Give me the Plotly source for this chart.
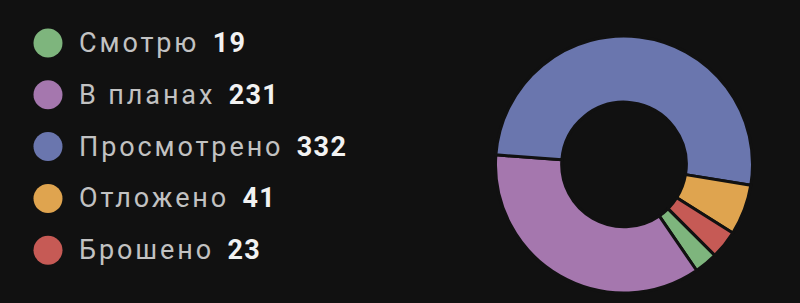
import plotly.graph_objects as go

categories = ["Смотрю", "В планах", "Просмотрено", "Отложено", "Брошено"]
values = [19, 231, 332, 41, 23]
colors = ["#7eb57d", "#a577ae", "#6a76ae", "#dfa44f", "#c65a55"]

BG = "#111111"
W, H = 800, 303

fig = go.Figure()

fig.add_trace(go.Pie(
    labels=categories, values=values, sort=False, direction="clockwise",
    rotation=135, hole=0.485,
    marker=dict(colors=colors, line=dict(color=BG, width=3)),
    textinfo="none", hoverinfo="label+value", showlegend=False,
    domain=dict(x=[(624 - 128.5) / W, (624 + 128.5) / W],
                y=[(H - 164.5 - 128.5) / H, (H - 164.5 + 128.5) / H]),
))

row0, step = 43, 51.8
ys = [row0 + i * step for i in range(len(categories))]

fig.add_trace(go.Scatter(
    x=[48] * len(categories), y=ys, mode="markers",
    marker=dict(size=29, color=colors, line=dict(width=0)),
    hoverinfo="skip", showlegend=False, xaxis="x", yaxis="y",
))

for cat, val, y in zip(categories, values, ys):
    fig.add_annotation(
        x=77, y=y, xref="x", yref="y", xanchor="left", yanchor="middle",
        showarrow=False,
        text=(f"<span style='letter-spacing:2.9px'>{cat}</span>\u00a0\u00a0"
              f"<b><span style='color:#f2f2f2;letter-spacing:1.3px'>{val}</span></b>"),
        font=dict(family="Roboto", size=27, color="#c2c2c2"),
    )

fig.update_layout(
    width=W, height=H, margin=dict(l=0, r=0, t=0, b=0),
    paper_bgcolor=BG, plot_bgcolor=BG,
    xaxis=dict(range=[0, W], domain=[0, 1], visible=False, fixedrange=True),
    yaxis=dict(range=[H, 0], domain=[0, 1], visible=False, fixedrange=True),
)

fig.write_html("out.html")
